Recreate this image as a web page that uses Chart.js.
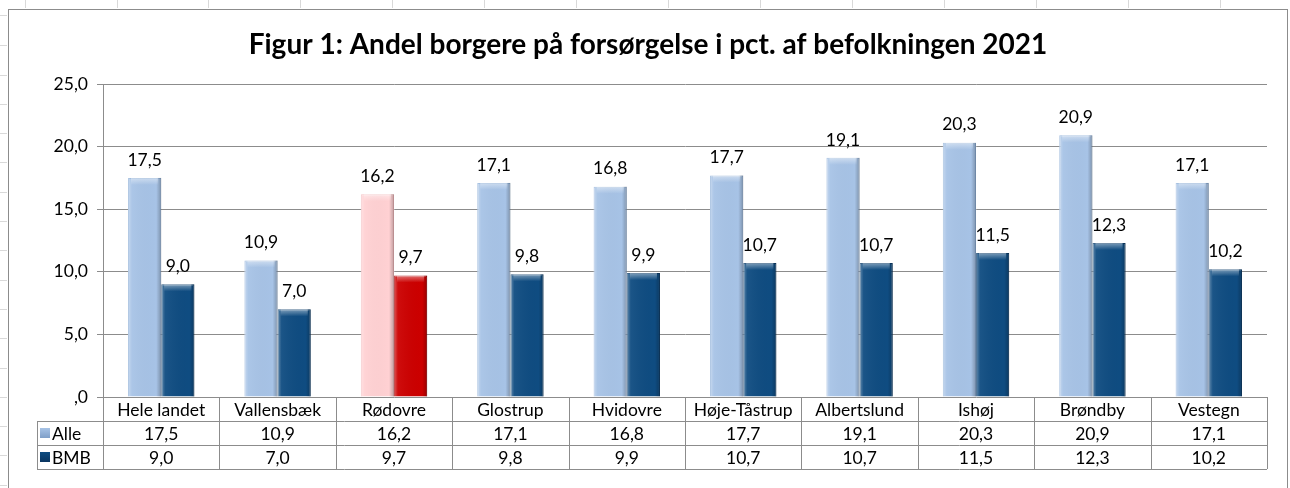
<!DOCTYPE html>
<html>
<head>
<meta charset="utf-8">
<script src="https://cdn.jsdelivr.net/npm/chart.js@4"></script>
<style>
  html, body { margin: 0; padding: 0; background: #fff; }
  #wrap { width: 1290px; height: 488px; }
</style>
</head>
<body>
<div id="wrap"><canvas id="chart"></canvas></div>
<script>
const categories = ['Hele landet', 'Vallensbæk', 'Rødovre', 'Glostrup', 'Hvidovre', 'Høje-Tåstrup', 'Albertslund', 'Ishøj', 'Brøndby', 'Vestegn'];
const alleValues = [17.5, 10.9, 16.2, 17.1, 16.8, 17.7, 19.1, 20.3, 20.9, 17.1];
const bmbValues = [9.0, 7.0, 9.7, 9.8, 9.9, 10.7, 10.7, 11.5, 12.3, 10.2];
const yTicks = [0, 5, 10, 15, 20, 25];

const highlight = 'Rødovre';
const FONT = 'Lato, "Open Sans", sans-serif';
const TXT = 17.5;

function fmt(v) {
    const s = v.toFixed(1).replace('.', ',');
    return s.startsWith('0,') ? s.slice(1) : s;
}

function barColors(base, hi) {
    return categories.map(c => c === highlight ? hi : base);
}

// frame, spreadsheet grid and title
const framePlugin = {
    id: 'frame',
    beforeDraw(chart) {
        const c = chart.ctx;
        c.save();
        c.fillStyle = '#fff';
        c.fillRect(0, 0, chart.width, chart.height);
        c.strokeStyle = '#d9d9d9';
        c.lineWidth = 1;
        [25, 117, 208, 300, 392, 484, 576, 668, 760, 852, 944, 1036, 1128, 1220].forEach(x => {
            c.beginPath(); c.moveTo(x + 0.5, 0); c.lineTo(x + 0.5, 8); c.stroke();
        });
        [15, 45, 75, 104, 133, 162, 192, 221, 250, 280, 309, 338, 368, 397, 426, 455, 485].forEach(y => {
            c.beginPath(); c.moveTo(0, y + 0.5); c.lineTo(7, y + 0.5); c.stroke();
        });
        c.strokeStyle = '#8c8c8c';
        c.strokeRect(8.5, 9.5, 1279, 490);
        c.restore();
    },
    afterDraw(chart) {
        const c = chart.ctx;
        c.save();
        c.fillStyle = '#000';
        c.font = 'bold 28px ' + FONT;
        c.textAlign = 'center';
        c.textBaseline = 'middle';
        c.fillText('Figur 1: Andel borgere på forsørgelse i pct. af befolkningen 2021', 648, 45);
        c.restore();
    }
};

// bevel shading and value labels on top of the bars
const barLabelPlugin = {
    id: 'barLabels',
    afterDatasetsDraw(chart) {
        const c = chart.ctx;
        c.save();
        chart.data.datasets.forEach((ds, di) => {
            const meta = chart.getDatasetMeta(di);
            meta.data.forEach((bar, i) => {
                const left = bar.x - bar.width / 2;
                const right = bar.x + bar.width / 2;
                const top = bar.y;
                const h = bar.base - bar.y;
                const g = c.createLinearGradient(left, 0, right, 0);
                g.addColorStop(0, 'rgba(255,255,255,0.35)');
                g.addColorStop(0.12, 'rgba(255,255,255,0.05)');
                g.addColorStop(0.85, 'rgba(0,0,0,0)');
                g.addColorStop(1, 'rgba(0,0,0,0.25)');
                c.fillStyle = g;
                c.fillRect(left, top, bar.width, h);
                const gt = c.createLinearGradient(0, top, 0, top + 7);
                gt.addColorStop(0, 'rgba(255,255,255,0.45)');
                gt.addColorStop(1, 'rgba(255,255,255,0)');
                c.fillStyle = gt;
                c.fillRect(left + 3, top, bar.width - 6, 7);

                c.fillStyle = '#000';
                c.font = TXT + 'px ' + FONT;
                c.textAlign = 'center';
                c.textBaseline = 'middle';
                c.fillText(fmt(ds.data[i]), bar.x, top - 18);
            });
        });
        c.restore();
    }
};

// data table under the plot
const tablePlugin = {
    id: 'dataTable',
    afterDraw(chart) {
        const c = chart.ctx;
        const area = chart.chartArea;
        const n = categories.length;
        const colW = (area.right - area.left) / n;
        const rowH = 24;
        const y0 = area.bottom;
        const legendLeft = 37;
        c.save();
        c.strokeStyle = '#8c8c8c';
        c.lineWidth = 1;
        for (let r = 1; r <= 3; r++) {
            const y = Math.round(y0 + r * rowH) + 0.5;
            c.beginPath(); c.moveTo(legendLeft, y); c.lineTo(area.right, y); c.stroke();
        }
        for (let i = 0; i <= n; i++) {
            const x = Math.round(area.left + i * colW) + 0.5;
            c.beginPath(); c.moveTo(x, y0); c.lineTo(x, y0 + 3 * rowH); c.stroke();
        }
        c.beginPath(); c.moveTo(legendLeft + 0.5, y0 + rowH); c.lineTo(legendLeft + 0.5, y0 + 3 * rowH); c.stroke();

        c.fillStyle = '#000';
        c.font = TXT + 'px ' + FONT;
        c.textBaseline = 'middle';
        c.textAlign = 'center';
        const rows = [categories, alleValues.map(fmt), bmbValues.map(fmt)];
        rows.forEach((row, r) => {
            row.forEach((txt, i) => {
                c.fillText(txt, area.left + (i + 0.5) * colW, y0 + (r + 0.5) * rowH + 1);
            });
        });
        const keys = [['Alle', '#a7c3e6', '#7f9fc8'], ['BMB', '#0f4c81', '#0a3560']];
        keys.forEach((k, r) => {
            const cy = y0 + (r + 1.5) * rowH;
            const g = c.createLinearGradient(0, cy - 5, 0, cy + 5);
            g.addColorStop(0, k[1]);
            g.addColorStop(1, k[2]);
            c.fillStyle = g;
            c.fillRect(40, cy - 5, 10, 10);
            c.fillStyle = '#000';
            c.textAlign = 'left';
            c.fillText(k[0], 52, cy + 1);
        });
        c.restore();
    }
};

new Chart(document.getElementById('chart'), {
    type: 'bar',
    data: {
        labels: categories,
        datasets: [{
            label: 'Alle',
            data: alleValues,
            backgroundColor: barColors('#a7c3e6', '#ffd1d3'),
            borderColor: barColors('#8fb0d8', '#f2b8bb'),
            borderWidth: 1,
            barPercentage: 1,
            categoryPercentage: 0.57
        }, {
            label: 'BMB',
            data: bmbValues,
            backgroundColor: barColors('#0f4c81', '#cc0000'),
            borderColor: barColors('#0b3d6b', '#a80000'),
            borderWidth: 1,
            barPercentage: 1,
            categoryPercentage: 0.57
        }]
    },
    options: {
        responsive: true,
        maintainAspectRatio: false,
        animation: false,
        layout: { padding: { top: 84, left: 8, right: 23, bottom: 91 } },
        plugins: {
            legend: { display: false },
            title: { display: false },
            tooltip: { enabled: false }
        },
        scales: {
            x: { display: false },
            y: {
                min: 0,
                max: 25,
                afterFit(scale) { scale.width = 95; },
                afterBuildTicks(scale) { scale.ticks = yTicks.map(v => ({ value: v })); },
                ticks: {
                    color: '#000',
                    font: { family: FONT, size: TXT },
                    padding: 9,
                    callback: v => fmt(v)
                },
                grid: { color: '#8c8c8c', tickLength: 6 },
                border: { color: '#8c8c8c' }
            }
        }
    },
    plugins: [framePlugin, barLabelPlugin, tablePlugin]
});
</script>
</body>
</html>
